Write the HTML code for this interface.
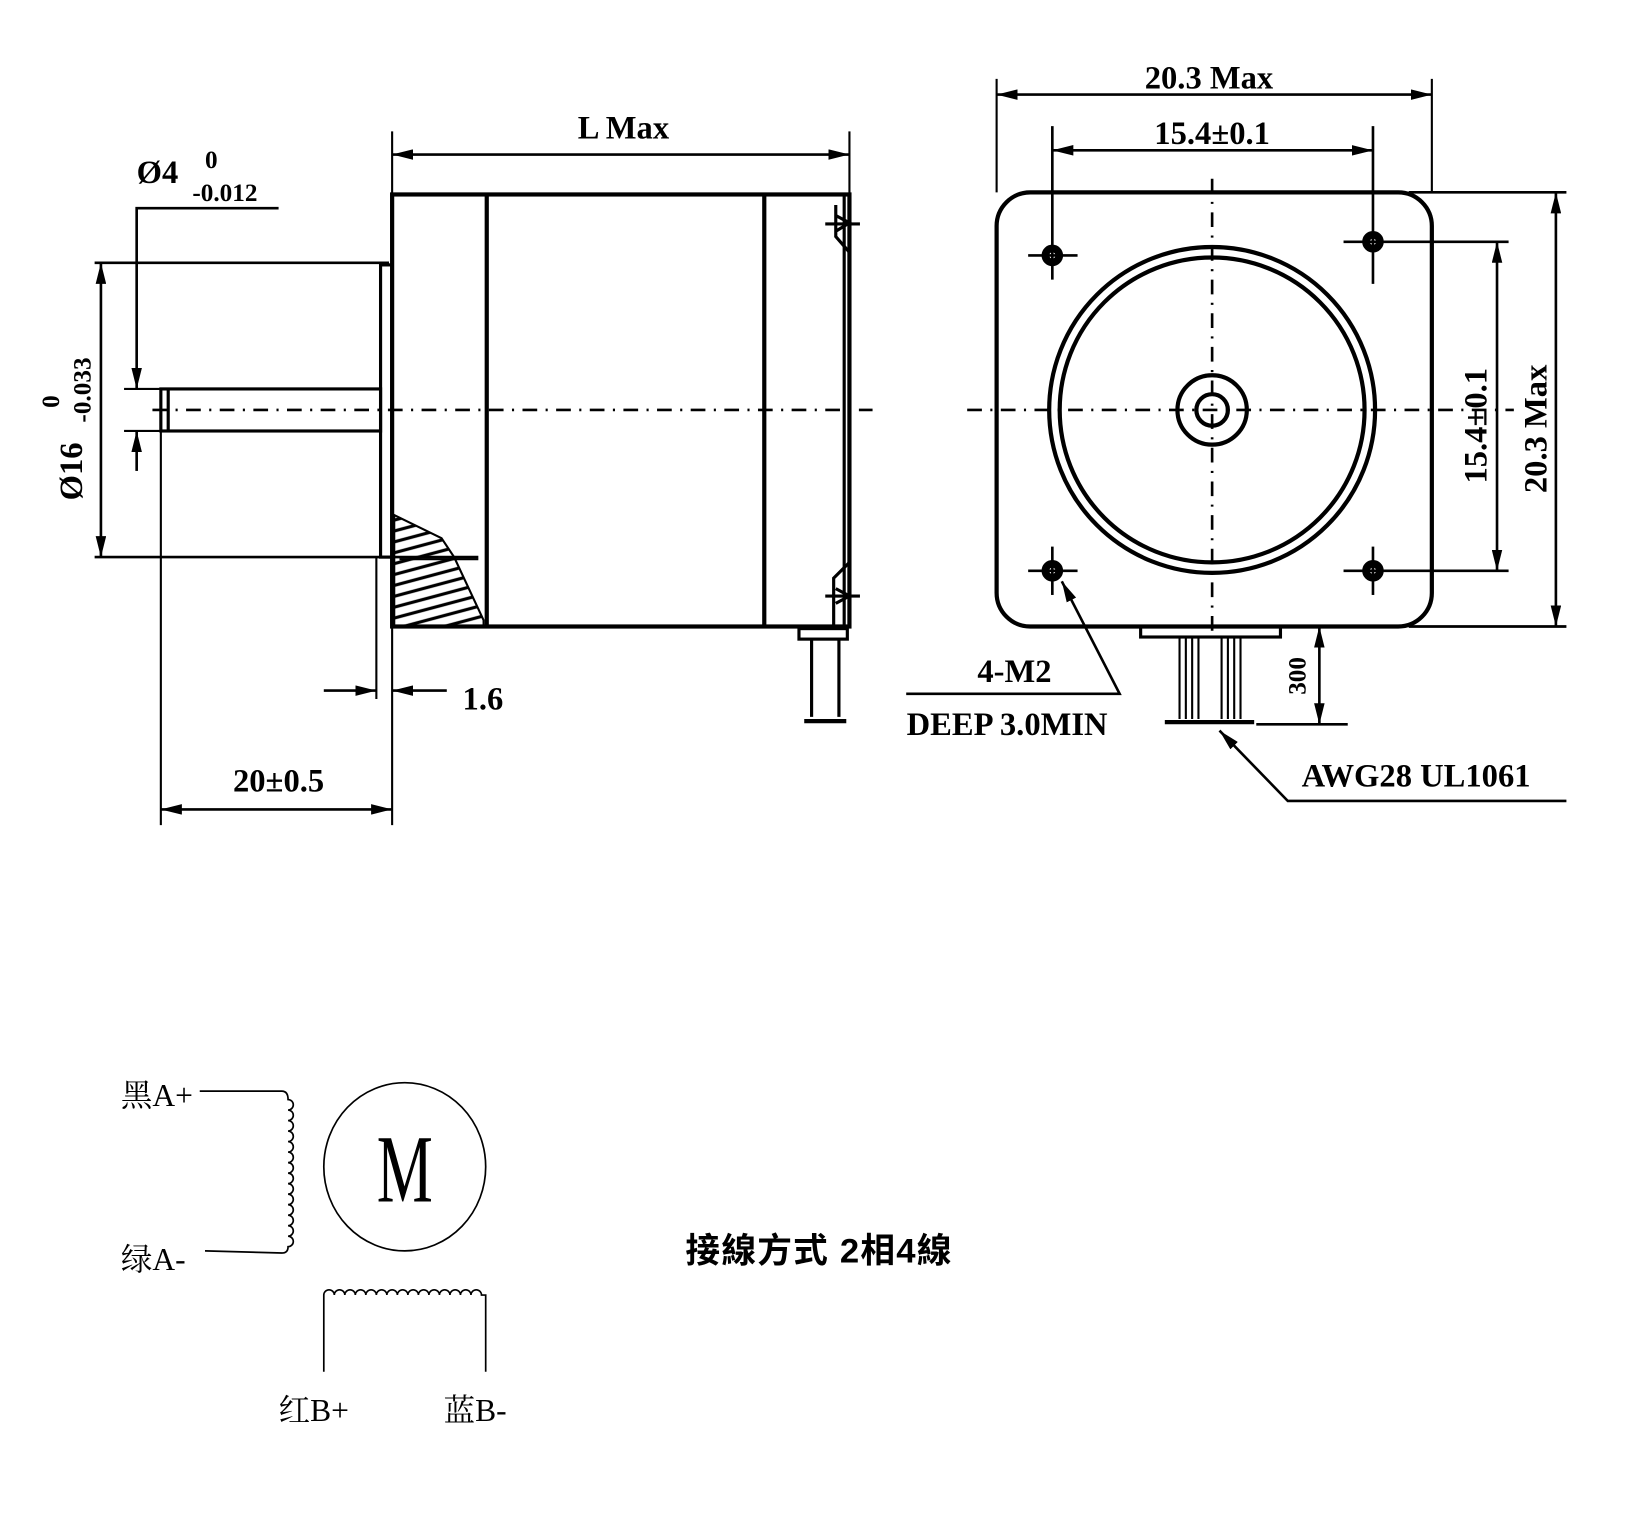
<!DOCTYPE html>
<html><head><meta charset="utf-8"><style>
html,body{margin:0;padding:0;background:#fff;}
svg{display:block;}
text{font-family:"Liberation Serif","Noto Serif CJK SC",serif;font-weight:bold;fill:#000;}
</style></head><body>
<svg width="1640" height="1520" viewBox="0 0 1560 1446" preserveAspectRatio="none" xmlns="http://www.w3.org/2000/svg">
<defs>
<marker id="a" viewBox="0 0 20 10" refX="20" refY="5" markerWidth="20" markerHeight="10" markerUnits="userSpaceOnUse" orient="auto-start-reverse"><path d="M0,0 L20,5 L0,10 z" fill="#000"/></marker>
<pattern id="h" width="10" height="10" patternUnits="userSpaceOnUse" patternTransform="rotate(-15)"><line x1="0" y1="5" x2="10" y2="5" stroke="#000" stroke-width="3"/></pattern>
</defs>
<g stroke="#000" fill="none" stroke-width="2">
<rect x="373" y="185" width="435" height="411" stroke-width="4"/>
<line x1="463" y1="185" x2="463" y2="596" stroke-width="4"/>
<line x1="727" y1="185" x2="727" y2="596" stroke-width="4"/>
<line x1="803" y1="185" x2="803" y2="596" stroke-width="3"/>
<path d="M795,195 L795,225 L808,240 M795,205 L808,212 L795,220 M785,213 L818,213" stroke-width="3"/>
<path d="M808,535 L793,550 L793,596 M795,560 L808,567 L795,574 M785,567 L818,567" stroke-width="3"/>
<path d="M375,490 L420,512 L432,530 L460,590 L460,596 L375,596 Z" fill="url(#h)" stroke-width="2"/>
<line x1="380" y1="532" x2="455" y2="532" stroke-width="2"/>
<rect x="362" y="252" width="11" height="278" stroke-width="3"/>
<rect x="153" y="370" width="209" height="40" stroke-width="3"/>
<line x1="160" y1="370" x2="160" y2="410" stroke-width="3"/>
<line x1="373" y1="125" x2="373" y2="785" stroke-width="2"/>
<line x1="358" y1="530" x2="358" y2="665" stroke-width="2"/>
<line x1="145" y1="390" x2="830" y2="390" stroke-dasharray="14,8,2,8" stroke-width="2.5"/>
<rect x="760" y="598" width="46" height="10" stroke-width="3"/>
<line x1="772" y1="608" x2="772" y2="682" stroke-width="3"/>
<line x1="798" y1="608" x2="798" y2="682" stroke-width="3"/>
<line x1="765" y1="686" x2="805" y2="686" stroke-width="4"/>
<line x1="808" y1="125" x2="808" y2="185"/>
<line x1="373" y1="147" x2="808" y2="147" marker-start="url(#a)" marker-end="url(#a)" stroke-width="2.5"/>
<polyline points="265,198 130,198 130,370" marker-end="url(#a)" stroke-width="2.5"/>
<line x1="130" y1="448" x2="130" y2="410" marker-end="url(#a)" stroke-width="2.5"/>
<line x1="118" y1="370" x2="153" y2="370"/>
<line x1="118" y1="410" x2="153" y2="410"/>
<line x1="90" y1="250" x2="370" y2="250" stroke-width="2.5"/>
<line x1="90" y1="530" x2="455" y2="530" stroke-width="2.5"/>
<line x1="96" y1="250" x2="96" y2="530" marker-start="url(#a)" marker-end="url(#a)" stroke-width="2.5"/>
<line x1="308" y1="657" x2="358" y2="657" marker-end="url(#a)" stroke-width="2.5"/>
<line x1="425" y1="657" x2="373" y2="657" marker-end="url(#a)" stroke-width="2.5"/>
<line x1="153" y1="410" x2="153" y2="785"/>
<line x1="153" y1="770" x2="373" y2="770" marker-start="url(#a)" marker-end="url(#a)" stroke-width="2.5"/>

<rect x="948" y="183" width="414" height="413" rx="32" stroke-width="4"/>
<circle cx="1153" cy="390" r="155" stroke-width="4"/>
<circle cx="1153" cy="390" r="145" stroke-width="4"/>
<circle cx="1153" cy="390" r="33" stroke-width="4"/>
<circle cx="1153" cy="390" r="15" stroke-width="4"/>
<line x1="920" y1="390" x2="1440" y2="390" stroke-dasharray="14,8,2,8" stroke-width="2.5"/>
<line x1="1153" y1="170" x2="1153" y2="605" stroke-dasharray="14,8,2,8" stroke-width="2.5"/>
<g stroke-width="2.5">
<circle cx="1001" cy="243" r="9" fill="#000"/><circle cx="1001" cy="243" r="3" fill="#fff" stroke="none"/>
<line x1="978" y1="243" x2="1025" y2="243"/><line x1="1001" y1="120" x2="1001" y2="266"/>
<circle cx="1306" cy="230" r="9" fill="#000"/><circle cx="1306" cy="230" r="3" fill="#fff" stroke="none"/>
<line x1="1278" y1="230" x2="1435" y2="230"/><line x1="1306" y1="120" x2="1306" y2="270"/>
<circle cx="1001" cy="543" r="9" fill="#000"/><circle cx="1001" cy="543" r="3" fill="#fff" stroke="none"/>
<line x1="978" y1="543" x2="1025" y2="543"/><line x1="1001" y1="520" x2="1001" y2="566"/>
<circle cx="1306" cy="543" r="9" fill="#000"/><circle cx="1306" cy="543" r="3" fill="#fff" stroke="none"/>
<line x1="1278" y1="543" x2="1435" y2="543"/><line x1="1306" y1="520" x2="1306" y2="566"/>
</g>
<line x1="948" y1="75" x2="948" y2="183"/>
<line x1="1362" y1="75" x2="1362" y2="183"/>
<line x1="948" y1="90" x2="1362" y2="90" marker-start="url(#a)" marker-end="url(#a)" stroke-width="2.5"/>
<line x1="1001" y1="143" x2="1306" y2="143" marker-start="url(#a)" marker-end="url(#a)" stroke-width="2.5"/>
<line x1="1424" y1="230" x2="1424" y2="543" marker-start="url(#a)" marker-end="url(#a)" stroke-width="2.5"/>
<line x1="1340" y1="183" x2="1490" y2="183" stroke-width="2.5"/>
<line x1="1340" y1="596" x2="1490" y2="596" stroke-width="2.5"/>
<line x1="1480" y1="183" x2="1480" y2="596" marker-start="url(#a)" marker-end="url(#a)" stroke-width="2.5"/>
<rect x="1085" y="596" width="133" height="10" stroke-width="3"/>
<g stroke-width="2">
<line x1="1122" y1="606" x2="1122" y2="684"/><line x1="1128" y1="606" x2="1128" y2="684"/><line x1="1134" y1="606" x2="1134" y2="684"/><line x1="1140" y1="606" x2="1140" y2="684"/>
<line x1="1162" y1="606" x2="1162" y2="684"/><line x1="1168" y1="606" x2="1168" y2="684"/><line x1="1174" y1="606" x2="1174" y2="684"/><line x1="1180" y1="606" x2="1180" y2="684"/>
</g>
<line x1="1108" y1="687" x2="1193" y2="687" stroke-width="4"/>
<line x1="1195" y1="689" x2="1282" y2="689" stroke-width="2.5"/>
<line x1="1255" y1="596" x2="1255" y2="689" marker-start="url(#a)" marker-end="url(#a)" stroke-width="2.5"/>
<polyline points="862,660 1065,660 1010,553" marker-end="url(#a)" stroke-width="2.5"/>
<polyline points="1490,762 1225,762 1160,695" marker-end="url(#a)" stroke-width="2.5"/>

<g stroke-width="1.6">
<path d="M190,1038 L268,1038 q6,0 6,8 a5,5 0 0 1 0,10 a5,5 0 0 1 0,10 a5,5 0 0 1 0,10 a5,5 0 0 1 0,10 a5,5 0 0 1 0,10 a5,5 0 0 1 0,10 a5,5 0 0 1 0,10 a5,5 0 0 1 0,10 a5,5 0 0 1 0,10 a5,5 0 0 1 0,10 a5,5 0 0 1 0,10 a5,5 0 0 1 0,10 a5,5 0 0 1 0,10 a5,5 0 0 1 0,10 q0,6 -6,6 L195,1190"/>
<ellipse cx="385" cy="1110" rx="77" ry="80"/>
<path d="M308,1305 L308,1232 a5,5 0 0 1 10,0 a5,5 0 0 1 10,0 a5,5 0 0 1 10,0 a5,5 0 0 1 10,0 a5,5 0 0 1 10,0 a5,5 0 0 1 10,0 a5,5 0 0 1 10,0 a5,5 0 0 1 10,0 a5,5 0 0 1 10,0 a5,5 0 0 1 10,0 a5,5 0 0 1 10,0 a5,5 0 0 1 10,0 a5,5 0 0 1 10,0 a5,5 0 0 1 10,0 a5,5 0 0 1 10,0 L462,1232 L462,1305"/>
</g>
</g>
<g font-size="31">
<text x="593" y="132" text-anchor="middle">L Max</text>
<text x="130" y="174">Ø4</text>
<text x="195" y="160" font-size="24">0</text>
<text x="183" y="191" font-size="24">-0.012</text>
<text transform="translate(78,476) rotate(-90)">Ø16</text>
<text transform="translate(56,388) rotate(-90)" font-size="24">0</text>
<text transform="translate(86,402) rotate(-90)" font-size="24">-0.033</text>
<text x="440" y="675">1.6</text>
<text x="265" y="753" text-anchor="middle">20±0.5</text>
<text x="1150" y="84" text-anchor="middle">20.3 Max</text>
<text x="1153" y="137" text-anchor="middle">15.4±0.1</text>
<text transform="translate(1414,405) rotate(-90)" text-anchor="middle">15.4±0.1</text>
<text transform="translate(1471,408) rotate(-90)" text-anchor="middle">20.3 Max</text>
<text transform="translate(1242,643) rotate(-90)" text-anchor="middle" font-size="24">300</text>
<text x="965" y="649" text-anchor="middle">4-M2</text>
<text x="958" y="699" text-anchor="middle">DEEP 3.0MIN</text>
<text x="1347" y="748" text-anchor="middle">AWG28 UL1061</text>
</g>
<g>
<text x="115" y="1052" font-size="30" style="font-weight:normal">黑A+</text>
<text x="115" y="1208" font-size="30" style="font-weight:normal">绿A-</text>
<text x="265" y="1352" font-size="30" style="font-weight:normal">红B+</text>
<text x="422" y="1352" font-size="30" style="font-weight:normal">蓝B-</text>
<text transform="translate(385,1143) scale(0.75,1.15)" font-size="80" text-anchor="middle" style="font-weight:normal">M</text>
</g>
<text x="652" y="1201" font-size="33" textLength="253" style="font-family:'Liberation Sans','Noto Sans CJK TC',sans-serif;font-weight:bold">接線方式 2相4線</text>
</svg>
</body></html>
